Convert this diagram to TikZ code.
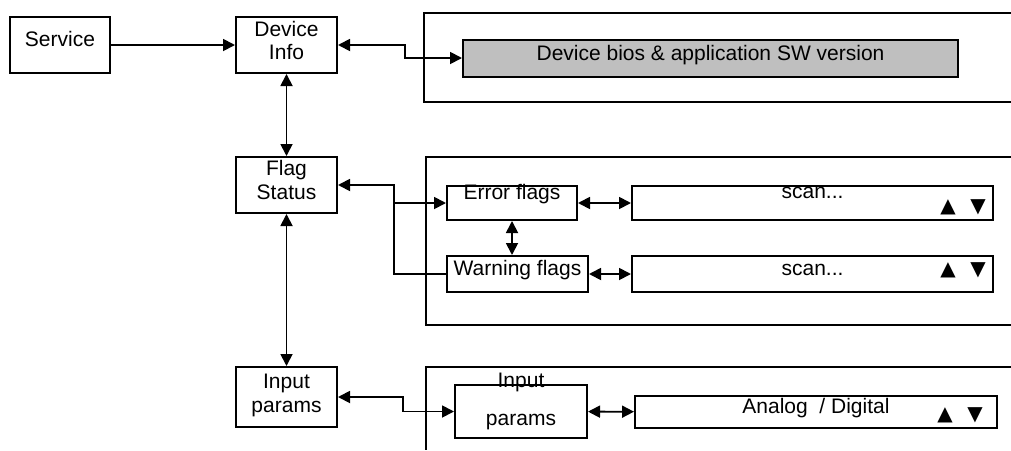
\documentclass[tikz,border=0pt]{standalone}
\usepackage{fontspec}
\setmainfont{Liberation Sans}
\newfontfamily\symfont{DejaVu Sans}
\usetikzlibrary{arrows.meta}

\begin{document}
\begin{tikzpicture}[
    x=1pt, y=-1pt,
    >={Triangle[length=12pt,width=12pt]},
    font=\fontsize{21}{23.5}\selectfont,
    box/.style={draw, line width=2pt, inner sep=0pt, align=center},
    lift/.style n args={2}{text height=#1, text depth=#2},
    frame/.style={draw, line width=2pt},
    arr/.style={->, line width=1.8pt},
    dbl/.style={<->, line width=1.8pt},
    updown/.style={font=\symfont\fontsize{20}{20}\selectfont, inner sep=0pt}
]
    \useasboundingbox (0,0) rectangle (1011,450);
    \draw[frame] (1011,13) -- (424,13) -- (424,102) -- (1011,102);
    \draw[frame] (1011,157) -- (426,157) -- (426,325) -- (1011,325);
    \draw[frame] (1011,367) -- (426,367) -- (426,450);

    \node[box, lift={3pt}{0pt}, minimum width=100, minimum height=56] (service) at (60,45) {Service};
    \node[box, lift={29.5pt}{0pt}, minimum width=101, minimum height=56] (devinfo) at (286.5,45) {Device\\Info};
    \node[box, lift={5pt}{0pt}, fill=black!25, minimum width=495, minimum height=37] (bios) at (710.5,58) {Device bios \& application SW version};
    \node[box, lift={28.5pt}{0pt}, minimum width=101, minimum height=56] (flag) at (286.5,185) {Flag\\Status};
    \node[box, lift={0pt}{7pt}, minimum width=130, minimum height=34] (err) at (512,203) {Error flags};
    \node[box, lift={3pt}{0pt}, minimum width=141, minimum height=36] (warn) at (517.5,274) {Warning flags};
    \node[box, lift={0pt}{9pt}, minimum width=361, minimum height=34] (scan1) at (812.5,203) {scan...};
    \node[box, lift={3pt}{0pt}, minimum width=361, minimum height=36] (scan2) at (812.5,274) {scan...};
    \node[box, lift={30.5pt}{0pt}, minimum width=101, minimum height=60] (inpar) at (286.5,397) {Input\\params};
    \node[box, lift={28pt}{0pt}, minimum width=132, minimum height=53,
          label={[anchor=base, yshift=-3.5pt, inner sep=0pt]north:Input}] (inpar2) at (521,411.5) {params};
    \node[box, lift={3pt}{0pt}, minimum width=362, minimum height=32] (analog) at (816,412) {Analog\ \ / Digital};
    \foreach \n/\x/\y in {1/948/207, 2/948/270, 3/945/415} {
        \node[updown] (up\n) at (\x,\y) {▲};
        \node[updown] (dn\n) at (\x+30,\y) {▼};
    }

    \draw[arr] (service) -- (devinfo);
    \draw[dbl] (devinfo.east) -- ++(67,0) |- (bios.west);
    \draw[dbl] (devinfo) -- (flag);
    \draw[dbl] (flag.east) -- ++(56,0) coordinate (fjoin) |- (err.west);
    \draw[line width=1.8pt] (fjoin) |- (warn.west);
    \draw[dbl] (err.south) -- (err.south |- warn.north);
    \draw[dbl] (err) -- (scan1);
    \draw[dbl] (warn) -- (scan2);
    \draw[dbl] (flag) -- (inpar);
    \draw[dbl] (inpar.east) -- ++(65,0) |- (inpar2.west);
    \draw[dbl] (inpar2) -- (analog);
\end{tikzpicture}
\end{document}
